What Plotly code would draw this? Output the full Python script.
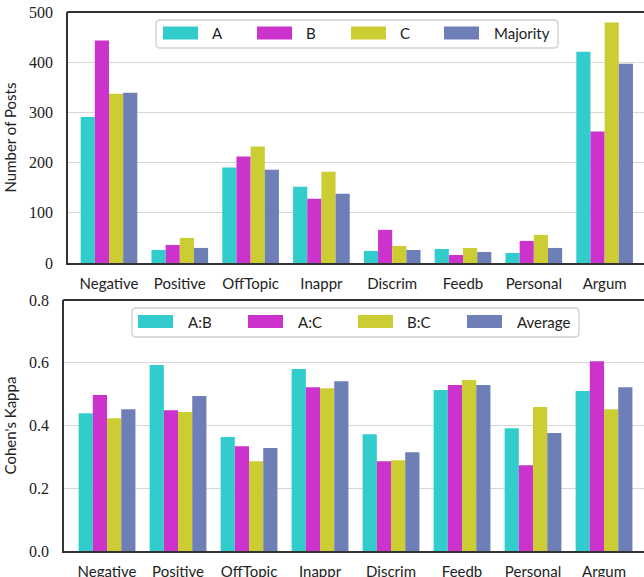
import plotly.graph_objects as go

# ---- data ----
categories = ["Negative", "Positive", "OffTopic", "Inappr", "Discrim", "Feedb", "Personal", "Argum"]

posts_series = ["A", "B", "C", "Majority"]
posts_A = [291, 26, 190, 152, 24, 28, 20, 421]
posts_B = [443, 36, 212, 128, 66, 16, 44, 262]
posts_C = [337, 50, 232, 182, 34, 30, 56, 479]
posts_majority = [339, 30, 186, 138, 26, 22, 30, 397]

kappa_series = ["A:B", "A:C", "B:C", "Average"]
kappa_AB = [0.439, 0.593, 0.363, 0.580, 0.372, 0.513, 0.391, 0.510]
kappa_AC = [0.497, 0.449, 0.334, 0.522, 0.286, 0.529, 0.273, 0.605]
kappa_BC = [0.423, 0.443, 0.286, 0.519, 0.289, 0.545, 0.459, 0.452]
kappa_avg = [0.452, 0.494, 0.328, 0.541, 0.315, 0.529, 0.376, 0.522]

posts_ticks = [0, 100, 200, 300, 400, 500]
kappa_ticks = [0.0, 0.2, 0.4, 0.6, 0.8]

colors = ["#33cccc", "#cc33cc", "#cccc33", "#6e7fb8"]

W, H = 644, 577


def px(x):
    return x / W


def py(y):
    return 1 - y / H


fig = go.Figure()

for name, vals, c in zip(posts_series, [posts_A, posts_B, posts_C, posts_majority], colors):
    fig.add_trace(go.Bar(x=categories, y=vals, name=name, marker=dict(color=c, line=dict(width=0)),
                         xaxis="x", yaxis="y", showlegend=False))
for name, vals, c in zip(kappa_series, [kappa_AB, kappa_AC, kappa_BC, kappa_avg], colors):
    fig.add_trace(go.Bar(x=categories, y=vals, name=name, marker=dict(color=c, line=dict(width=0)),
                         xaxis="x2", yaxis="y2", showlegend=False))

sans = "Lato, sans-serif"
serif = "Liberation Serif, serif"
spine = "#333333"
grid = "#d6d6d6"

xcommon = dict(type="category", showline=True, linecolor=spine, linewidth=1.8, mirror=False,
               ticks="", showgrid=False, tickfont=dict(family=sans, size=15, color="#222"),
               ticklabelstandoff=6, zeroline=False, automargin=False)
ycommon = dict(showline=True, linecolor=spine, linewidth=1.8, ticks="", showgrid=True, mirror=False,
               gridcolor=grid, gridwidth=1.3, zeroline=False, automargin=False,
               tickfont=dict(family=serif, size=16, color="#222"), ticklabelstandoff=10)

fig.update_layout(
    width=W, height=H, margin=dict(l=0, r=0, t=0, b=0, autoexpand=False),
    paper_bgcolor="white", plot_bgcolor="white",
    barmode="group", bargap=0.2, bargroupgap=0.0,
    xaxis=dict(xcommon, domain=[px(68), 1], range=[-0.579, 7.556], anchor="y"),
    yaxis=dict(ycommon, domain=[py(263), py(12)], range=[0, 500], tickvals=posts_ticks,
               anchor="x", title=dict(text="Number of Posts", font=dict(family=sans, size=15, color="#222"),
                                      standoff=9)),
    xaxis2=dict(xcommon, domain=[px(64), 1], range=[-0.606, 7.563], anchor="y2"),
    yaxis2=dict(ycommon, domain=[py(551), py(300)], range=[0, 0.8], tickvals=kappa_ticks,
                tickformat=".1f", anchor="x2",
                title=dict(text="Cohen's Kappa", font=dict(family=sans, size=15, color="#222"), standoff=9)),
)


def rounded_box(x0, y0, x1, y1, r=4):
    return (f"M {px(x0 + r)} {py(y0)} L {px(x1 - r)} {py(y0)} Q {px(x1)} {py(y0)} {px(x1)} {py(y0 + r)} "
            f"L {px(x1)} {py(y1 - r)} Q {px(x1)} {py(y1)} {px(x1 - r)} {py(y1)} "
            f"L {px(x0 + r)} {py(y1)} Q {px(x0)} {py(y1)} {px(x0)} {py(y1 - r)} "
            f"L {px(x0)} {py(y0 + r)} Q {px(x0)} {py(y0)} {px(x0 + r)} {py(y0)} Z")


# top spines of both panels, stopping at the right edge of the figure
shapes = []
for top, left in ((12, 68), (300, 64)):
    shapes.append(dict(type="line", xref="paper", yref="paper", x0=px(left - 0.9), x1=1,
                       y0=py(top), y1=py(top), line=dict(color=spine, width=1.8), layer="above"))


def draw_legend(box, names, swatch_x, text_x, y_center):
    shp = [dict(type="path", xref="paper", yref="paper", path=rounded_box(*box),
                line=dict(color="#cfcfcf", width=1.3), fillcolor="rgba(255,255,255,0.85)", layer="above")]
    annos = []
    for name, c, sx, tx in zip(names, colors, swatch_x, text_x):
        shp.append(dict(type="rect", xref="paper", yref="paper", x0=px(sx), x1=px(sx + 35),
                        y0=py(y_center + 6.5), y1=py(y_center - 6.5), fillcolor=c,
                        line=dict(width=0), layer="above"))
        annos.append(dict(xref="paper", yref="paper", x=px(tx), y=py(y_center), text=name,
                          showarrow=False, xanchor="left", yanchor="middle",
                          font=dict(family=sans, size=15, color="#222")))
    return shp, annos


s1, a1 = draw_legend((156, 20, 558, 48), posts_series, [163, 257, 351, 444], [210, 304, 398, 492], 33)
s2, a2 = draw_legend((132, 308, 579, 337), kappa_series, [138, 248, 358, 467], [186, 296, 405, 515], 321.5)
fig.update_layout(shapes=shapes + s1 + s2, annotations=a1 + a2)

fig.write_html("out.html")
